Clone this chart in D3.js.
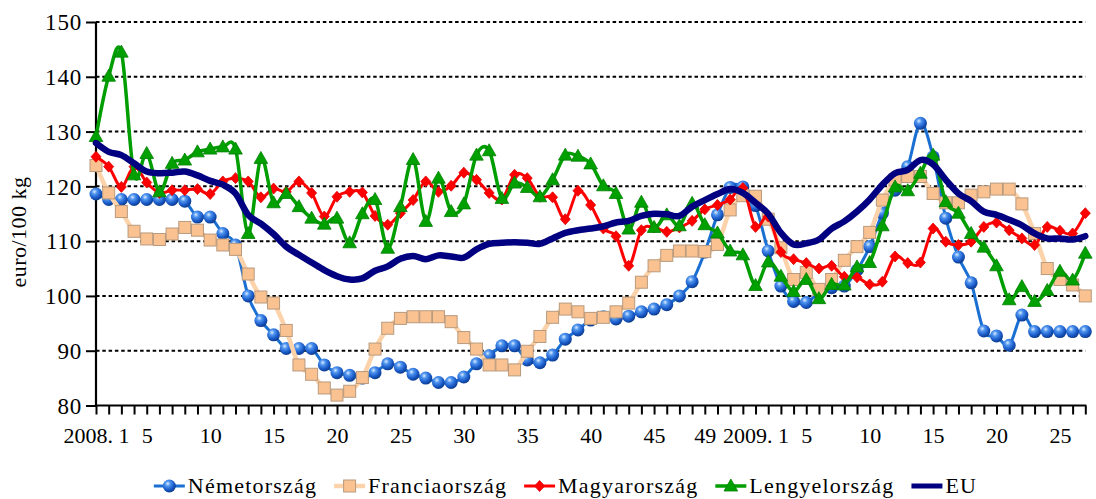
<!DOCTYPE html>
<html><head><meta charset="utf-8">
<script src="https://cdn.jsdelivr.net/npm/d3@7"></script>
<style>
html,body{margin:0;padding:0;background:#fff;}
svg{display:block;}
text{font-family:"Liberation Serif","Times New Roman",serif;fill:#000;}
</style></head><body>
<svg id="chart" width="1096" height="499"></svg>
<script>
// ---------- data ----------
const weeks2008 = d3.range(1, 53);
const weeks2009 = d3.range(1, 28);
const categories = weeks2008.map(w => "2008." + w).concat(weeks2009.map(w => "2009." + w));

const tickCats  = ["2008.1","2008.5","2008.10","2008.15","2008.20","2008.25","2008.30","2008.35","2008.40","2008.45","2008.49","2009.1","2009.5","2009.10","2009.15","2009.20","2009.25"];
const tickTexts = ["2008. 1","5","10","15","20","25","30","35","40","45","49","2009. 1","5","10","15","20","25"];
const yTicks = [80, 90, 100, 110, 120, 130, 140, 150];

const nemetorszag = [
118.6,117.6,117.6,117.6,117.6,117.6,117.6,117.3,114.4,114.4,
111.4,109.3,100.0,95.5,92.9,90.4,90.4,90.4,87.4,86.0,
85.5,85.0,86.0,87.6,87.0,85.7,85.0,84.2,84.2,85.2,
87.6,89.1,90.9,90.9,88.3,87.8,89.2,92.1,93.8,95.6,
96.2,95.8,96.3,97.1,97.6,98.4,100.0,102.6,108.0,114.8,
119.8,119.9,
116.5,108.2,101.8,99.0,98.8,100.5,101.5,101.8,104.7,109.0,
115.1,119.3,123.6,131.5,125.4,114.2,107.1,102.4,93.6,92.7,
91.0,96.5,93.5,93.5,93.5,93.5,93.5];

const franciaorszag = [
123.8,118.8,115.4,111.8,110.4,110.3,111.3,112.5,112.0,110.2,
109.3,108.5,104.0,99.8,98.7,93.7,87.4,85.7,83.2,81.9,
82.6,85.1,90.3,94.1,95.9,96.2,96.2,96.2,95.3,92.4,
90.3,87.4,87.4,86.5,89.9,92.6,96.1,97.6,97.1,95.9,
96.1,97.1,98.7,102.5,105.5,107.4,108.2,108.2,108.1,109.4,
115.7,118.3,
118.2,114.0,108.8,103.0,104.3,101.2,103.0,106.5,109.0,111.6,
117.5,121.2,121.8,121.8,118.7,117.0,117.0,118.4,119.0,119.5,
119.5,116.8,111.4,105.0,103.0,102.0,100.0];

const magyarorszag = [
125.4,123.6,119.9,123.6,120.7,118.8,119.3,119.3,119.5,118.6,
120.9,121.5,120.9,118.0,119.6,119.0,120.9,118.8,114.5,118.1,
119.0,118.9,114.6,113.0,115.1,117.5,120.9,119.0,120.1,122.5,
121.2,118.8,117.6,122.1,121.5,118.1,118.0,114.0,119.2,116.6,
112.3,110.9,105.5,112.0,112.5,111.7,112.5,113.7,115.8,116.6,
117.6,119.7,
112.6,114.5,108.0,106.7,106.0,105.0,105.5,103.5,103.4,102.1,
102.6,107.2,106.0,106.1,112.3,109.9,109.3,109.9,112.6,113.4,
112.0,110.5,109.3,112.6,111.9,111.4,115.1];

const lengyelorszag = [
129.1,140.1,144.5,122.1,126.0,119.0,124.2,124.8,126.3,126.8,
127.2,126.8,111.4,125.1,117.0,118.7,116.3,114.2,113.1,114.2,
109.7,115.0,117.6,108.7,116.3,124.9,113.6,121.5,115.4,116.8,
125.7,126.5,117.8,120.6,119.8,118.1,121.2,125.7,125.5,124.1,
120.1,118.7,112.2,117.1,112.5,114.8,112.8,116.9,113.0,111.5,
108.2,107.5,
101.9,106.2,103.6,100.8,103.0,99.5,102.1,102.0,105.3,106.1,
112.8,119.9,119.2,122.4,125.7,117.2,115.1,111.4,108.9,105.5,
99.3,101.7,99.0,101.0,104.5,102.9,107.8];

const eu = [
127.9,126.3,125.7,124.2,122.7,122.4,122.5,122.7,122.0,121.0,
120.3,118.7,114.8,113.2,111.3,109.0,107.5,106.1,104.7,103.6,
103.0,103.2,104.6,105.4,106.8,107.3,106.7,107.4,107.2,107.0,
108.5,109.5,109.7,109.8,109.7,109.5,110.5,111.5,112.0,112.3,
112.7,113.4,113.7,114.6,115.0,114.9,114.6,116.3,117.5,118.6,
119.5,118.8,
117.0,115.0,111.5,109.4,109.6,110.3,112.3,113.6,115.4,117.6,
120.3,122.4,123.0,124.8,124.0,121.2,118.7,117.3,115.4,114.8,
113.9,112.9,111.4,110.5,110.5,110.3,110.9];

const seriesNames = ["Németország","Franciaország","Magyarország","Lengyelország","EU"];
const seriesValues = [nemetorszag, franciaorszag, magyarorszag, lengyelorszag, eu];

// ---------- styles ----------
const styles = [
  {line:"#1a6fd2", width:3,   marker:"sphere"},
  {line:"#fbd2a9", width:4.5, marker:"square"},
  {line:"#ff0000", width:3,   marker:"diamond"},
  {line:"#009e00", width:3.5, marker:"triangle"},
  {line:"#000080", width:6.5, marker:"none"}
];

const svg = d3.select("#chart");
const defs = svg.append("defs");
const g1 = defs.append("radialGradient").attr("id","sph").attr("cx","38%").attr("cy","32%").attr("r","70%");
g1.append("stop").attr("offset","0%").attr("stop-color","#dcecff");
g1.append("stop").attr("offset","28%").attr("stop-color","#4f95ef");
g1.append("stop").attr("offset","70%").attr("stop-color","#1858c6");
g1.append("stop").attr("offset","100%").attr("stop-color","#0c3a88");

const x = d3.scalePoint().domain(categories).range([96, 1085.3]);
const y = d3.scaleLinear().domain([80, 150]).range([405.5, 22]);

// gridlines
svg.append("g").selectAll("line").data(yTicks.filter(v => v > 80)).join("line")
  .attr("x1", 96).attr("x2", 1085.3)
  .attr("y1", d => y(d)).attr("y2", d => y(d))
  .attr("stroke", "#000").attr("stroke-width", 2).attr("stroke-dasharray", "3.5,2.8");

// y axis
const yAxis = svg.append("g").attr("transform", "translate(96,0)")
  .call(d3.axisLeft(y).tickValues(yTicks).tickSize(10).tickPadding(4).tickFormat(d3.format("d")));
yAxis.select(".domain").attr("stroke","#000").attr("stroke-width",2.2).attr("d","M0,22V405.5");
yAxis.selectAll(".tick line").attr("stroke","#000").attr("stroke-width",2);
yAxis.selectAll(".tick text").style("font-size","23px").attr("letter-spacing","0.8px")
  .attr("font-family","Liberation Serif").attr("dy","0.34em");

// x axis
const labelMap = new Map(tickCats.map((c,i) => [c, tickTexts[i]]));
const xAxis = svg.append("g").attr("transform", "translate(0,405.5)")
  .call(d3.axisBottom(x).tickSize(9).tickPadding(9).tickFormat(d => labelMap.get(d) || ""));
xAxis.select(".domain").attr("stroke","#000").attr("stroke-width",2.2).attr("d","M95,0H1086.3");
xAxis.selectAll(".tick line").attr("stroke","#000").attr("stroke-width",2);
xAxis.selectAll(".tick text").style("font-size","22px").attr("font-family","Liberation Serif").attr("dy","0.9em");

// y title
svg.append("text").attr("transform","translate(26,232) rotate(-90)")
  .attr("text-anchor","middle").style("font-size","22px").attr("letter-spacing","0.5px")
  .text("euro/100 kg");

// markers
function drawMarker(sel, type) {
  if (type === "sphere") {
    sel.append("circle").attr("r", 6.5).attr("fill", "url(#sph)");
  } else if (type === "square") {
    sel.append("rect").attr("x",-6).attr("y",-6).attr("width",12).attr("height",12)
      .attr("fill","#fac291").attr("stroke","#b89a7e").attr("stroke-width",1);
  } else if (type === "diamond") {
    sel.append("path").attr("d","M0,-5.5L5,0L0,5.5L-5,0Z").attr("fill","#ff0000").attr("stroke","#e00000").attr("stroke-width",0.8);
  } else if (type === "triangle") {
    sel.append("path").attr("d","M0,-7L6.8,5L-6.8,5Z").attr("fill","#00a000").attr("stroke","#008000").attr("stroke-width",0.8);
  }
}

const line = d3.line().x((d,i) => x(categories[i])).y(d => y(d)).curve(d3.curveCardinal.tension(0));

seriesValues.forEach((vals, si) => {
  const st = styles[si];
  const g = svg.append("g");
  g.append("path").datum(vals).attr("d", line).attr("fill","none")
    .attr("stroke", st.line).attr("stroke-width", st.width).attr("stroke-linejoin","round").attr("stroke-linecap","round");
  if (st.marker !== "none") {
    g.selectAll("g.m").data(vals).join("g").attr("class","m")
      .attr("transform", (d,i) => `translate(${x(categories[i])},${y(d)})`)
      .each(function(){ drawMarker(d3.select(this), st.marker); });
  }
});

// legend
const legend = svg.append("g");
const items = [];
seriesNames.forEach((name, i) => {
  const it = legend.append("g");
  it.append("line").attr("x1",2).attr("x2",33).attr("y1",0).attr("y2",0)
    .attr("stroke", styles[i].line).attr("stroke-width", Math.min(styles[i].width, 5));
  const mk = it.append("g").attr("transform","translate(17.5,0)");
  drawMarker(mk, styles[i].marker);
  const t = it.append("text").attr("x",36).attr("y",0).attr("dy","0.33em")
    .style("font-size","22px").attr("letter-spacing","1.2px").text(name);
  const w = 36 + t.node().getComputedTextLength();
  items.push({it, w});
});
const gap = 15;
const total = d3.sum(items, d => d.w) + gap * (items.length - 1);
let pos = 564.5 - total / 2;
items.forEach(d => { d.it.attr("transform", `translate(${pos},486)`); pos += d.w + gap; });
</script>
</body></html>
